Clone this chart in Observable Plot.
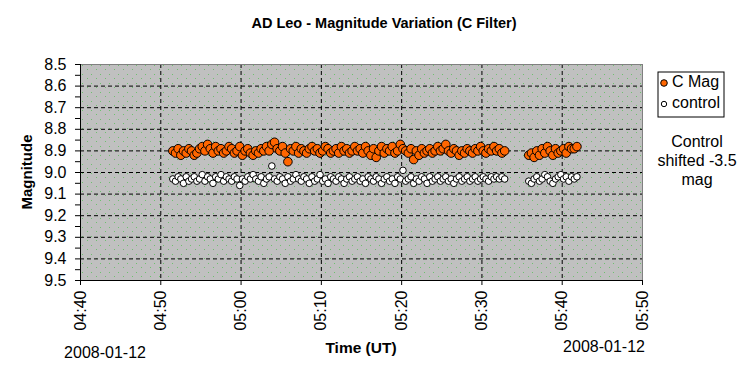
<!DOCTYPE html>
<html>
<head>
<meta charset="utf-8">
<script src="https://cdn.jsdelivr.net/npm/d3@7"></script>
<script src="https://cdn.jsdelivr.net/npm/@observablehq/plot@0.6"></script>
<style>
  body { margin: 0; background: white; }
  #chart { width: 746px; height: 378px; }
</style>
</head>
<body>
<div id="chart"></div>
<script>
const day = "2008-01-12";

// observation times (UT), first run
const times1 = [
  "04:51:30","04:51:50",
  "04:52:10","04:52:30","04:52:50","04:53:10","04:53:30","04:53:50","04:54:10","04:54:30","04:54:50",
  "04:55:10","04:55:30","04:55:50","04:56:10","04:56:30","04:56:50","04:57:10","04:57:30","04:57:50",
  "04:58:10","04:58:30","04:58:50","04:59:10","04:59:30","04:59:50",
  "05:00:10","05:00:30","05:00:50","05:01:10","05:01:30","05:01:50","05:02:10","05:02:30","05:02:50",
  "05:03:10","05:03:30","05:03:50","05:04:10","05:04:30","05:04:50","05:05:10","05:05:30","05:05:50",
  "05:06:10","05:06:30","05:06:50","05:07:10","05:07:30","05:07:50","05:08:10","05:08:30","05:08:50",
  "05:09:10","05:09:30","05:09:50","05:10:10","05:10:30","05:10:50","05:11:10","05:11:30","05:11:50",
  "05:12:10","05:12:30","05:12:50","05:13:10","05:13:30","05:13:50","05:14:10","05:14:30","05:14:50",
  "05:15:10","05:15:30","05:15:50","05:16:10","05:16:30","05:16:50","05:17:10","05:17:30","05:17:50",
  "05:18:10","05:18:30","05:18:50","05:19:10","05:19:30","05:19:50","05:20:10","05:20:30","05:20:50",
  "05:21:10","05:21:30","05:21:50","05:22:10","05:22:30","05:22:50","05:23:10","05:23:30","05:23:50",
  "05:24:10","05:24:30","05:24:50","05:25:10","05:25:30","05:25:50","05:26:10","05:26:30","05:26:50",
  "05:27:10","05:27:30","05:27:50","05:28:10","05:28:30","05:28:50","05:29:10","05:29:30","05:29:50",
  "05:30:10","05:30:30","05:30:50","05:31:10","05:31:30","05:31:50","05:32:10","05:32:30","05:32:50"
];
// observation times (UT), second run
const times2 = [
  "05:35:50",
  "05:36:10","05:36:30","05:36:50","05:37:10","05:37:30","05:37:50","05:38:10","05:38:30","05:38:50",
  "05:39:10","05:39:30","05:39:50","05:40:10","05:40:30","05:40:50","05:41:10","05:41:30","05:41:50"
];

// C Mag values
const cmag1 = [
  8.90,8.91,8.89,8.92,8.90,8.91,8.89,8.90,8.92,8.91,
  8.89,8.88,8.90,8.87,8.89,8.91,8.88,8.90,8.89,8.91,
  8.90,8.88,8.89,8.91,8.90,8.88,8.92,8.90,8.89,8.91,
  8.92,8.90,8.91,8.89,8.90,8.88,8.90,8.87,8.86,8.89,
  8.90,8.88,8.91,8.95,8.89,8.90,8.88,8.91,8.89,8.90,
  8.91,8.89,8.88,8.90,8.89,8.91,8.90,8.88,8.89,8.91,
  8.90,8.89,8.91,8.88,8.90,8.89,8.91,8.90,8.88,8.90,
  8.89,8.91,8.88,8.90,8.92,8.89,8.93,8.90,8.88,8.91,
  8.89,8.90,8.88,8.91,8.90,8.87,8.89,8.90,8.91,8.89,
  8.94,8.90,8.92,8.89,8.91,8.90,8.89,8.91,8.90,8.88,
  8.90,8.89,8.87,8.90,8.91,8.89,8.90,8.92,8.90,8.91,
  8.89,8.90,8.91,8.89,8.90,8.88,8.90,8.91,8.89,8.90,
  8.88,8.90,8.89,8.91,8.90
];
const cmag2 = [
  8.92,8.91,8.93,8.90,8.92,8.89,8.91,8.88,8.90,8.92,
  8.89,8.91,8.90,8.89,8.91,8.88,8.89,8.89,8.88
];

// control values (shifted -3.5 mag)
const ctrl1 = [
  9.03,9.04,9.02,9.03,9.05,9.02,9.04,9.03,9.02,9.04,
  9.03,9.01,9.04,9.02,9.03,9.05,9.02,9.03,9.01,9.04,
  9.02,9.03,9.04,9.02,9.03,9.06,9.03,9.04,9.02,9.03,
  9.01,9.03,9.04,9.02,9.05,9.03,9.02,8.97,9.03,9.04,
  9.02,9.03,9.05,9.02,9.04,9.03,9.01,9.03,9.04,9.02,
  9.03,9.05,9.02,9.04,9.03,9.01,9.04,9.03,9.05,9.02,
  9.03,9.04,9.02,9.03,9.05,9.03,9.02,9.04,9.03,9.02,
  9.04,9.03,9.05,9.02,9.03,9.04,9.02,9.03,9.05,9.03,
  9.02,9.04,9.03,9.05,9.02,9.03,8.99,9.04,9.03,9.02,
  9.05,9.03,9.04,9.02,9.03,9.05,9.02,9.04,9.03,9.02,
  9.04,9.03,9.02,9.04,9.03,9.05,9.03,9.02,9.04,9.03,
  9.02,9.04,9.03,9.02,9.04,9.03,9.02,9.03,9.04,9.02,
  9.03,9.02,9.03,9.02,9.03
];
const ctrl2 = [
  9.04,9.05,9.03,9.02,9.04,9.03,9.01,9.02,9.04,9.05,
  9.03,9.02,9.01,9.03,9.02,9.04,9.02,9.03,9.02
];

const xTickLabels = ["04:40","04:50","05:00","05:10","05:20","05:30","05:40","05:50"];
const yTickLabels = [8.5,8.6,8.7,8.8,8.9,9.0,9.1,9.2,9.3,9.4,9.5];
const yMinor = [8.55,8.65,8.75,8.85,8.95,9.05,9.15,9.25,9.35,9.45];
const seriesNames = ["C Mag", "control"];

const parse = d3.utcParse("%Y-%m-%d %H:%M:%S");
const t = s => parse(`${day} ${s}`);
const times = [...times1, ...times2].map(t);
const cmagAll = [...cmag1, ...cmag2];
const ctrlAll = [...ctrl1, ...ctrl2];
const cmag = times.map((d, i) => ({time: d, mag: cmagAll[i]}));
const ctrl = times.map((d, i) => ({time: d, mag: ctrlAll[i]}));
const xTicks = xTickLabels.map(s => t(s + ":00"));

const font = "'Liberation Sans', Arial, sans-serif";

const svg = Plot.plot({
  width: 746,
  height: 378,
  marginLeft: 80,
  marginRight: 104,
  marginTop: 64,
  marginBottom: 98,
  style: {fontFamily: font, fontSize: "16px", background: "white", color: "black", overflow: "visible"},
  x: {type: "utc", domain: [xTicks[0], xTicks[xTicks.length - 1]]},
  y: {domain: [8.5, 9.5], reverse: true},
  marks: [
    Plot.frame({fill: "#c0c0c0", stroke: "none"}),
    Plot.gridY(yTickLabels.slice(1, -1), {stroke: "black", strokeOpacity: 1, strokeDasharray: "4,3"}),
    Plot.gridX(xTicks.slice(1, -1), {stroke: "black", strokeOpacity: 1, strokeDasharray: "4,3"}),
    Plot.frame({stroke: "#808080"}),
    Plot.axisX({ticks: xTicks, tickFormat: d3.utcFormat("%H:%M"), tickRotate: -90, tickSize: 5, tickPadding: 5, label: null, fontSize: 16}),
    Plot.axisY({ticks: yTickLabels, tickFormat: d3.format(".1f"), tickSize: 5, tickPadding: 9, label: null, fontSize: 16}),
    Plot.axisY({ticks: yMinor, tickFormat: () => "", tickSize: 5, label: null}),
    Plot.ruleY([9.5], {stroke: "black"}),
    Plot.ruleX([xTicks[0]], {stroke: "black"}),
    Plot.dot(ctrl, {x: "time", y: "mag", r: 3.3, fill: "white", stroke: "black", strokeWidth: 1}),
    Plot.dot(cmag, {x: "time", y: "mag", r: 4.3, fill: "#ff6600", stroke: "black", strokeWidth: 1})
  ]
});

const s = d3.select(svg);

// green dotted texture on the plot background
const defs = s.append("defs");
const pat = defs.append("pattern").attr("id", "dots").attr("patternUnits", "userSpaceOnUse")
  .attr("width", 9).attr("height", 9);
pat.append("rect").attr("x", 1).attr("y", 2).attr("width", 1).attr("height", 1).attr("fill", "#6fbf6f");
pat.append("rect").attr("x", 6).attr("y", 6).attr("width", 1).attr("height", 1).attr("fill", "#6fbf6f");
const markNodes = Array.from(svg.children).filter(n => n.tagName.toLowerCase() !== "style" && n.tagName.toLowerCase() !== "defs");
const tex = document.createElementNS("http://www.w3.org/2000/svg", "rect");
tex.setAttribute("x", 80); tex.setAttribute("y", 64);
tex.setAttribute("width", 746 - 80 - 104); tex.setAttribute("height", 378 - 64 - 98);
tex.setAttribute("fill", "url(#dots)");
svg.insertBefore(tex, markNodes[1]);

function addText(x, y, str, opts = {}) {
  const el = s.append("text")
    .attr("x", x).attr("y", y)
    .attr("text-anchor", opts.anchor || "middle")
    .attr("font-family", font)
    .attr("font-size", opts.size || 16)
    .attr("font-weight", opts.bold ? "bold" : "normal")
    .attr("fill", "black")
    .attr("dominant-baseline", "middle")
    .text(str);
  if (opts.rotate) el.attr("transform", `rotate(${opts.rotate},${x},${y})`);
  return el;
}
addText(384, 24, "AD Leo - Magnitude Variation (C Filter)", {bold: true, size: 14.5});
addText(361, 349, "Time (UT)", {bold: true, size: 15.5});
addText(28, 172, "Magnitude", {bold: true, size: 15});
s.select("text:last-of-type");
s.selectAll("text").filter(function() { return this.textContent === "Magnitude"; })
  .attr("transform", "rotate(-90,28,172)");
addText(105, 354, day);
addText(604, 348, day);

// legend
const lg = s.append("g");
lg.append("rect").attr("x", 658).attr("y", 72).attr("width", 66).attr("height", 45)
  .attr("fill", "white").attr("stroke", "black");
lg.append("circle").attr("cx", 664).attr("cy", 83).attr("r", 3.3).attr("fill", "#ff6600").attr("stroke", "black");
lg.append("circle").attr("cx", 664).attr("cy", 104).attr("r", 2.7).attr("fill", "white").attr("stroke", "black");
addText(672, 83, seriesNames[0], {anchor: "start"});
addText(672, 104, seriesNames[1], {anchor: "start"});

addText(697, 143, "Control");
addText(697, 162, "shifted -3.5");
addText(697, 181, "mag");

document.getElementById("chart").appendChild(svg);
</script>
</body>
</html>
